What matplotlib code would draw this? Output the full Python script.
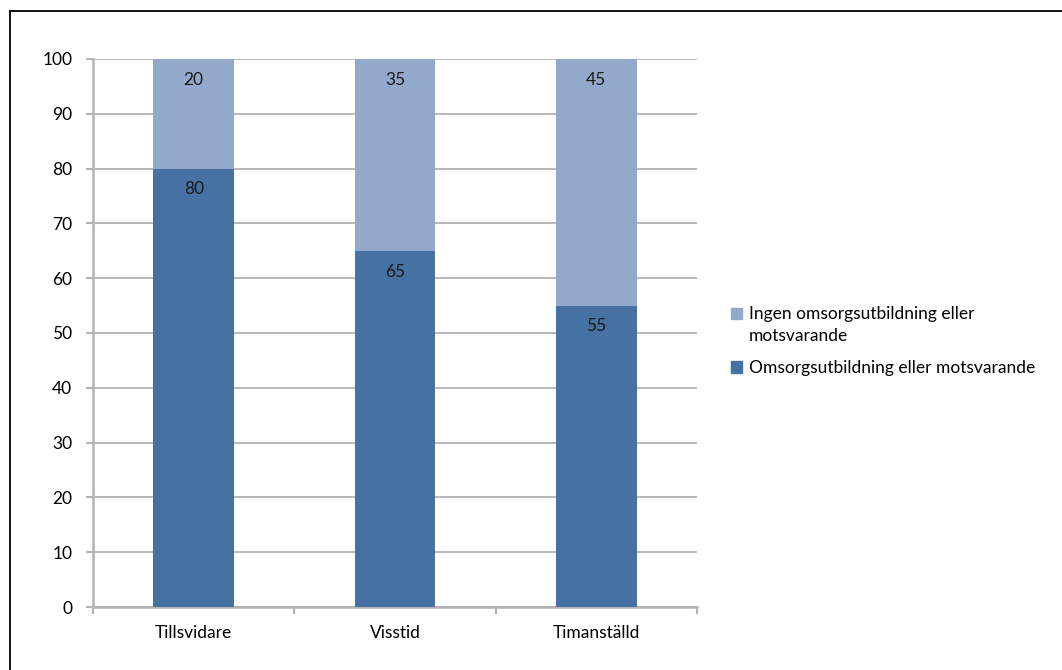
import numpy as np
import matplotlib.pyplot as plt
from matplotlib.lines import Line2D
from matplotlib.patches import Rectangle
from matplotlib.legend_handler import HandlerPatch

plt.rcParams['font.family'] = ['Lato', 'DejaVu Sans']

# Andel anställda per anställningsform (%)
categories = ['Tillsvidare', 'Visstid', 'Timanställd']
med_utbildning = [80, 65, 55]
utan_utbildning = [20, 35, 45]
lbl_med = 'Omsorgsutbildning eller motsvarande'
lbl_utan = 'Ingen omsorgsutbildning eller\nmotsvarande'

dark = '#4572a3'
light = '#93a9cb'
grid_col = '#b3b3b3'
fs = 12.5

fig = plt.figure(figsize=(10.62, 6.70), dpi=100)
ax = fig.add_axes([0.0876, 0.094, 0.5687, 0.818])

x = np.arange(len(categories))
w = 0.4
ax.bar(x, med_utbildning, w, color=dark, zorder=3)
ax.bar(x, utan_utbildning, w, bottom=med_utbildning, color=light, zorder=3)

# värden strax under toppen av varje segment
for xi, v in zip(x, med_utbildning):
    ax.annotate(str(v), (xi, v), xytext=(0, -15), textcoords='offset points',
                ha='center', va='center', fontsize=fs, color='#1a1a1a', zorder=4)
for xi, b, v in zip(x, med_utbildning, utan_utbildning):
    ax.annotate(str(v), (xi, b + v), xytext=(0, -15), textcoords='offset points',
                ha='center', va='center', fontsize=fs, color='#1a1a1a', zorder=4)

ax.set_xlim(-0.5, 2.5)
ax.set_ylim(0, 100)
ax.set_yticks(range(0, 101, 10))
ax.set_xticks(x)
ax.set_xticklabels(categories)
ax.set_xticks([-0.5, 0.5, 1.5, 2.5], minor=True)
ax.tick_params(axis='x', which='major', length=0, pad=13, labelsize=fs)
ax.tick_params(axis='x', which='minor', length=5, color=grid_col, width=1.5)
ax.tick_params(axis='y', length=5, color=grid_col, width=1.5, pad=10, labelsize=fs)
ax.yaxis.grid(True, color=grid_col, linewidth=1.3, zorder=0)

for s in ['top', 'right']:
    ax.spines[s].set_visible(False)
for s in ['left', 'bottom']:
    ax.spines[s].set_color(grid_col)
    ax.spines[s].set_linewidth(1.8)


# rutan för tvåradig etikett ligger i höjd med första raden
def top_square(legend, orig_handle, xdescent, ydescent, width, height, fontsize):
    return Rectangle((-xdescent, -ydescent + 0.72 * fontsize), width, height)


h_utan = Rectangle((0, 0), 1, 1, color=light)
h_med = Rectangle((0, 0), 1, 1, color=dark)
leg = ax.legend([h_utan, h_med], [lbl_utan, lbl_med], loc='center left',
                bbox_to_anchor=(1.03, 0.485), frameon=False, fontsize=fs,
                handlelength=0.65, handleheight=0.65, handletextpad=0.4,
                labelspacing=0.9, handler_map={h_utan: HandlerPatch(patch_func=top_square)})
for t in leg.get_texts():
    t.set_linespacing(1.45)

# ram runt diagrammet
fig.add_artist(Line2D([10 / 1062, 1.0], [1 - 11 / 670, 1 - 11 / 670], color='black', linewidth=1.3))
fig.add_artist(Line2D([10 / 1062, 10 / 1062], [0.0, 1 - 11 / 670], color='black', linewidth=1.3))

fig.savefig('out.png', dpi=100)
